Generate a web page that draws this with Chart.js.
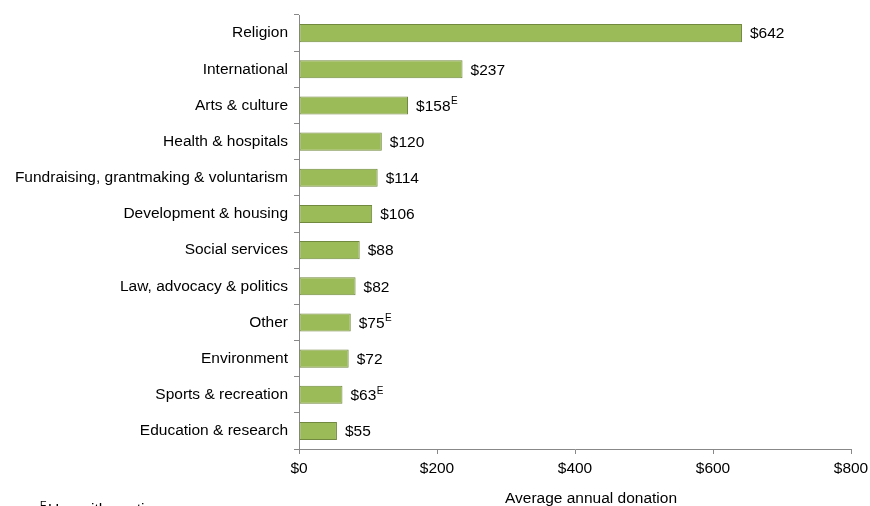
<!DOCTYPE html>
<html><head><meta charset="utf-8">
<script src="https://cdn.jsdelivr.net/npm/chart.js@4/dist/chart.umd.min.js"></script>
<style>html,body{margin:0;padding:0;background:#fff;}#wrap{width:870px;height:506px;position:relative;}</style>
</head><body><div id="wrap"><canvas id="c" width="870" height="506"></canvas></div>
<script>
const categories = ["Religion","International","Arts & culture","Health & hospitals","Fundraising, grantmaking & voluntarism","Development & housing","Social services","Law, advocacy & politics","Other","Environment","Sports & recreation","Education & research"];
const values = [642,237,158,120,114,106,88,82,75,72,63,55];
const flags = ["","","E","","","","","","E","","E",""];
const xTicks = [0,200,400,600,800];
const axisTitle = "Average annual donation";
const footnote = "Use with caution";

const FONT = "'Liberation Sans', Arial, sans-serif";
const FS = 15.5;

const valueLabels = {
  id: 'valueLabels',
  afterDatasetsDraw(chart) {
    const ctx = chart.ctx;
    const meta = chart.getDatasetMeta(0);
    ctx.save();
    ctx.fillStyle = '#000';
    ctx.textBaseline = 'middle';
    ctx.textAlign = 'left';
    meta.data.forEach((bar, i) => {
      const txt = '$' + values[i];
      ctx.font = FS + 'px ' + FONT;
      const x = bar.x + 8;
      ctx.fillText(txt, x, bar.y + 1);
      if (flags[i]) {
        const w = ctx.measureText(txt).width;
        ctx.font = '10px ' + FONT;
        ctx.fillText(flags[i], x + w + 0.5, bar.y - 4);
      }
    });
    const ca = chart.chartArea;
    ctx.font = FS + 'px ' + FONT;
    ctx.textAlign = 'center';
    ctx.textBaseline = 'alphabetic';
    ctx.fillText(axisTitle, (ca.left + ca.right) / 2 + 16, 503);
    ctx.textAlign = 'left';
    ctx.font = '10px ' + FONT;
    ctx.fillText('E', 40, 509);
    ctx.font = FS + 'px ' + FONT;
    ctx.fillText(footnote, 48, 514);
    ctx.restore();
  }
};

new Chart(document.getElementById('c'), {
  type: 'bar',
  data: {
    labels: categories,
    datasets: [{
      data: values,
      backgroundColor: '#9BBB59',
      borderColor: '#71893F',
      borderWidth: 1,
      borderSkipped: false,
      categoryPercentage: 1,
      barPercentage: 0.5
    }]
  },
  options: {
    indexAxis: 'y',
    responsive: false,
    animation: false,
    devicePixelRatio: 1,
    layout: { padding: { top: 15, right: 19, left: 0, bottom: 0 } },
    plugins: { legend: { display: false }, tooltip: { enabled: false } },
    scales: {
      x: {
        min: 0, max: 800,
        afterBuildTicks(scale) { scale.ticks = xTicks.map(v => ({ value: v })); },
        afterFit(scale) { scale.height = 57; scale.paddingLeft = 0; scale.paddingRight = 0; },
        grid: { drawOnChartArea: false, drawTicks: true, tickLength: 5, color: '#888' },
        border: { display: true, color: '#888', width: 1 },
        ticks: { padding: 5, color: '#000', font: { family: FONT, size: FS }, callback: v => '$' + v, maxRotation: 0 }
      },
      y: {
        afterFit(scale) { scale.width = 299; scale.paddingTop = 0; scale.paddingBottom = 0; },
        grid: { offset: true, drawOnChartArea: false, drawTicks: true, tickLength: 5, color: '#888' },
        border: { display: true, color: '#888', width: 1 },
        ticks: { padding: 6, color: '#000', font: { family: FONT, size: FS }, autoSkip: false }
      }
    }
  },
  plugins: [valueLabels]
});
</script></body></html>
